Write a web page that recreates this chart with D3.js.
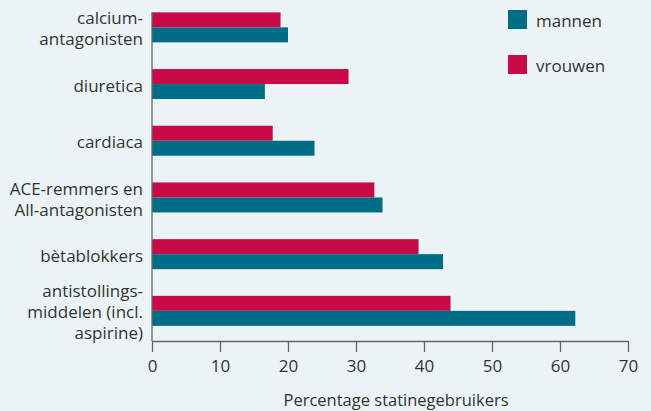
<!DOCTYPE html>
<html>
<head>
<meta charset="utf-8">
<script src="https://cdn.jsdelivr.net/npm/d3@7"></script>
<style>
  html, body { margin: 0; padding: 0; background: #ebf3f6; }
  svg { display: block; font-family: "Open Sans", sans-serif; }
</style>
</head>
<body>
<div id="chart"></div>
<script>
// categories top to bottom, each label split into its lines
const categories = ["calcium", "diuretica", "cardiaca", "ace", "beta", "anti"];
const categoryLines = [
  ["calcium-", "antagonisten"],
  ["diuretica"],
  ["cardiaca"],
  ["ACE-remmers en", "All-antagonisten"],
  ["bètablokkers"],
  ["antistollings-", "middelen (incl.", "aspirine)"]
];
const vrouwen = [18.9, 28.9, 17.75, 32.7, 39.2, 43.9];
const mannen = [20.0, 16.6, 23.9, 33.9, 42.8, 62.25];
const xTicks = [0, 10, 20, 30, 40, 50, 60, 70];
const seriesKeys = ["mannen", "vrouwen"];

const W = 651, H = 411;
const margin = { left: 152, top: 0 };
const plotW = 476, plotH = 341;

const color = { mannen: "#006d87", vrouwen: "#c80a46" };

const svg = d3.select("#chart").append("svg")
  .attr("width", W)
  .attr("height", H);

const g = svg.append("g").attr("transform", `translate(${margin.left},${margin.top})`);

const x = d3.scaleLinear().domain([0, 70]).range([0, plotW]);
const y = d3.scaleBand().domain(categories).range([-1, 339.2]).paddingInner(0.471).paddingOuter(0.2355);
const yInner = d3.scaleBand().domain(["vrouwen", "mannen"]).range([0, y.bandwidth()]);

const rows = categories.map((c, i) => ({ key: c, lines: categoryLines[i], vrouwen: vrouwen[i], mannen: mannen[i] }));

const grp = g.selectAll(".grp").data(rows).join("g")
  .attr("class", "grp")
  .attr("transform", d => `translate(0,${y(d.key)})`);

grp.selectAll("rect")
  .data(d => ["vrouwen", "mannen"].map(k => ({ k, v: d[k] })))
  .join("rect")
  .attr("x", 0)
  .attr("y", d => yInner(d.k))
  .attr("width", d => x(d.v))
  .attr("height", yInner.bandwidth())
  .attr("fill", d => color[d.k]);

// category labels
const lineH = 21;
grp.append("text")
  .attr("text-anchor", "end")
  .attr("fill", "#333")
  .attr("font-size", "17px")
  .each(function (d) {
    const t = d3.select(this);
    const n = d.lines.length;
    d.lines.forEach((l, i) => {
      t.append("tspan")
        .attr("x", -9)
        .attr("y", y.bandwidth() / 2 + 1.5 + (i - (n - 1) / 2) * lineH)
        .attr("dy", "0.36em")
        .text(l);
    });
  });

// y axis line
g.append("line")
  .attr("x1", 0).attr("x2", 0)
  .attr("y1", y(categories[0])).attr("y2", plotH)
  .attr("stroke", "#666").attr("stroke-width", 1.3);

// x axis
const xAxis = g.append("g")
  .attr("transform", `translate(0,${plotH})`)
  .call(d3.axisBottom(x).tickValues(xTicks).tickSize(11).tickPadding(8).tickSizeOuter(0));
xAxis.select(".domain").attr("stroke", "#666").attr("stroke-width", 1.3);
xAxis.selectAll(".tick line").attr("stroke", "#666").attr("stroke-width", 1.3);
xAxis.selectAll(".tick text")
  .attr("fill", "#333")
  .attr("font-size", "17px")
  .attr("font-family", "Open Sans, sans-serif");

svg.append("text")
  .attr("x", 396)
  .attr("y", 406)
  .attr("text-anchor", "middle")
  .attr("fill", "#333")
  .attr("font-size", "16.5px")
  .text("Percentage statinegebruikers");

// legend
const legend = svg.selectAll(".legend").data(seriesKeys).join("g")
  .attr("class", "legend")
  .attr("transform", (d, i) => `translate(508,${10 + i * 45})`);

legend.append("rect")
  .attr("width", 19)
  .attr("height", 19)
  .attr("fill", d => color[d]);

legend.append("text")
  .attr("x", 28)
  .attr("y", 10.5)
  .attr("dy", "0.36em")
  .attr("fill", "#333")
  .attr("font-size", "17px")
  .text(d => d);
</script>
</body>
</html>
